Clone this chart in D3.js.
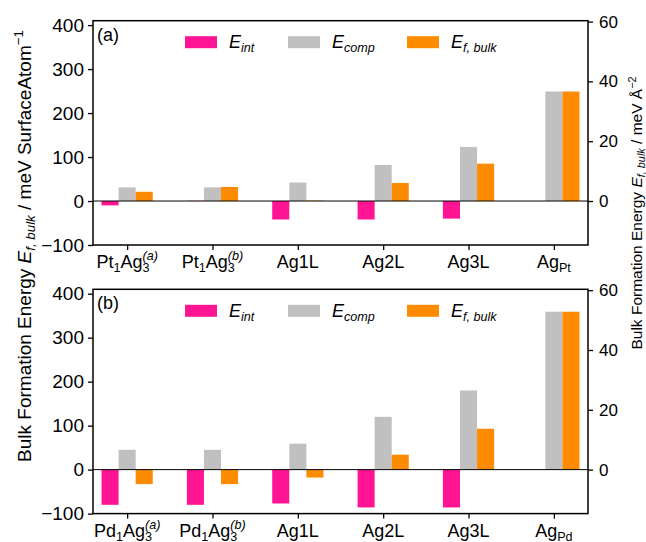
<!DOCTYPE html>
<html>
<head>
<meta charset="utf-8">
<script src="https://cdn.jsdelivr.net/npm/d3@7"></script>
<style>
  body { margin: 0; background: #fff; }
  svg { display: block; font-family: "Liberation Sans", Arial, sans-serif; }
  .tick line { stroke: #000; stroke-width: 1.3; }
  .tick text { fill: #000; }
</style>
</head>
<body>
<svg id="chart" width="646" height="542"></svg>
<script>
// categories (markup: _{} sub, ^{} sup, leading / inside braces = italic)
const catsA = ["Pt_{1}Ag_{3}^{/(a)}", "Pt_{1}Ag_{3}^{/(b)}", "Ag1L", "Ag2L", "Ag3L", "Ag_{Pt}"];
const catsB = ["Pd_{1}Ag_{3}^{/(a)}", "Pd_{1}Ag_{3}^{/(b)}", "Ag1L", "Ag2L", "Ag3L", "Ag_{Pd}"];

// panel (a) values, meV / surface atom
const eIntA = [-10, 0.5, -42, -42, -40, 0];
const eCompA = [31, 31, 42, 82, 123, 249];
const eFbulkA = [21, 32, 1, 41, 85, 249];

// panel (b) values
const eIntB = [-80, -80, -77, -86, -86, 0];
const eCompB = [45, 45, 59, 120, 180, 359];
const eFbulkB = [-33, -33, -18, 34, 93, 359];

const leftTicks = [-100, 0, 100, 200, 300, 400];
const rightTicks = [0, 20, 40, 60];
const legendLabels = ["{/E}_{/int}", "{/E}_{/comp}", "{/E}_{/f, bulk}"];
const yLabelLeft = "Bulk Formation Energy {/E}_{/f, bulk} / meV SurfaceAtom^{\u22121}";
const yLabelRight = "Bulk Formation Energy {/E}_{/f, bulk} / meV \u00c5^{\u22122}";

const colors = ["#ff1493", "#c0c0c0", "#ff8c00"];
const atomArea = 6.8; // Å^2 per surface atom, left/right axis ratio

const svg = d3.select("#chart");

const x = d3.scaleLinear().domain([-0.4, 5.4]).range([93, 588]);
const barW = x(0.2) - x(0);
const offsets = [-0.2, 0, 0.2];

function richText(textSel, str, size) {
  const re = /([_^]?)\{(\/?)([^}]*)\}|([^_^{]+)/g;
  let m, cur = 0, prevK = "n", prevW = 0;
  while ((m = re.exec(str)) !== null) {
    let t, k, it = false;
    if (m[4] !== undefined) { t = m[4]; k = "n"; }
    else { t = m[3]; k = m[1] === "_" ? "sub" : m[1] === "^" ? "sup" : "n"; it = m[2] === "/"; }
    const target = k === "sub" ? size * 0.22 : k === "sup" ? -size * 0.42 : 0;
    const ts = textSel.append("tspan")
      .text(t)
      .attr("dy", target - cur)
      .attr("font-size", k === "n" ? size : size * 0.7)
      .attr("font-style", it ? "italic" : "normal");
    if (k === "sup" && prevK === "sub") ts.attr("dx", -prevW);
    cur = target;
    prevK = k;
    prevW = ts.node().getComputedTextLength();
  }
  return textSel;
}

function drawPanel(top, cats, series, tag) {
  const bottom = top + 224.3;
  const y = d3.scaleLinear().domain([-100, 410]).range([bottom, top]);
  const y2 = d3.scaleLinear().domain([-100 / atomArea, 410 / atomArea]).range([bottom, top]);
  const g = svg.append("g");

  series.forEach((vals, s) => {
    g.selectAll(null)
      .data(vals)
      .enter()
      .append("rect")
      .attr("x", (d, i) => x(i + offsets[s]) - barW / 2)
      .attr("y", (d) => y(Math.max(0, d)))
      .attr("width", barW)
      .attr("height", (d) => Math.abs(y(d) - y(0)))
      .attr("fill", colors[s]);
  });

  // zero line
  g.append("line")
    .attr("x1", x.range()[0]).attr("x2", x.range()[1])
    .attr("y1", y(0)).attr("y2", y(0))
    .attr("stroke", "#000").attr("stroke-width", 1);

  const leftAxis = g.append("g")
    .attr("transform", `translate(${x.range()[0]},0)`)
    .call(d3.axisLeft(y).tickValues(leftTicks).tickSize(5).tickPadding(4));
  leftAxis.selectAll("text").attr("font-size", 19);

  const rightAxis = g.append("g")
    .attr("transform", `translate(${x.range()[1]},0)`)
    .call(d3.axisRight(y2).tickValues(rightTicks).tickSize(5).tickPadding(6));
  rightAxis.selectAll("text").attr("font-size", 17);

  const bottomAxis = g.append("g")
    .attr("transform", `translate(0,${bottom})`)
    .call(d3.axisBottom(x).tickValues(d3.range(cats.length)).tickSize(5).tickFormat(""));
  g.selectAll(".domain").remove();

  cats.forEach((c, i) => {
    richText(
      g.append("text")
        .attr("x", x(i))
        .attr("y", bottom + 23)
        .attr("text-anchor", "middle"),
      c, 18
    );
  });

  // frame
  g.append("rect")
    .attr("x", x.range()[0]).attr("y", top)
    .attr("width", x.range()[1] - x.range()[0]).attr("height", bottom - top)
    .attr("fill", "none").attr("stroke", "#000").attr("stroke-width", 1.5);

  g.append("text")
    .attr("x", 97).attr("y", top + 20)
    .attr("font-size", 18)
    .text(tag);

  // legend
  const legX = [185, 288, 407];
  legendLabels.forEach((lab, s) => {
    g.append("rect")
      .attr("x", legX[s]).attr("y", top + 15.5)
      .attr("width", 32).attr("height", 12)
      .attr("fill", colors[s]);
    richText(
      g.append("text").attr("x", legX[s] + 44).attr("y", top + 27.5),
      lab, 18
    );
  });
}

drawPanel(20.7, catsA, [eIntA, eCompA, eFbulkA], "(a)");
drawPanel(289.3, catsB, [eIntB, eCompB, eFbulkB], "(b)");

richText(
  svg.append("text")
    .attr("transform", "translate(31,246) rotate(-90)")
    .attr("text-anchor", "middle"),
  yLabelLeft, 19
);

richText(
  svg.append("text")
    .attr("transform", "translate(642,213) rotate(-90)")
    .attr("text-anchor", "middle"),
  yLabelRight, 15.5
);
</script>
</body>
</html>
